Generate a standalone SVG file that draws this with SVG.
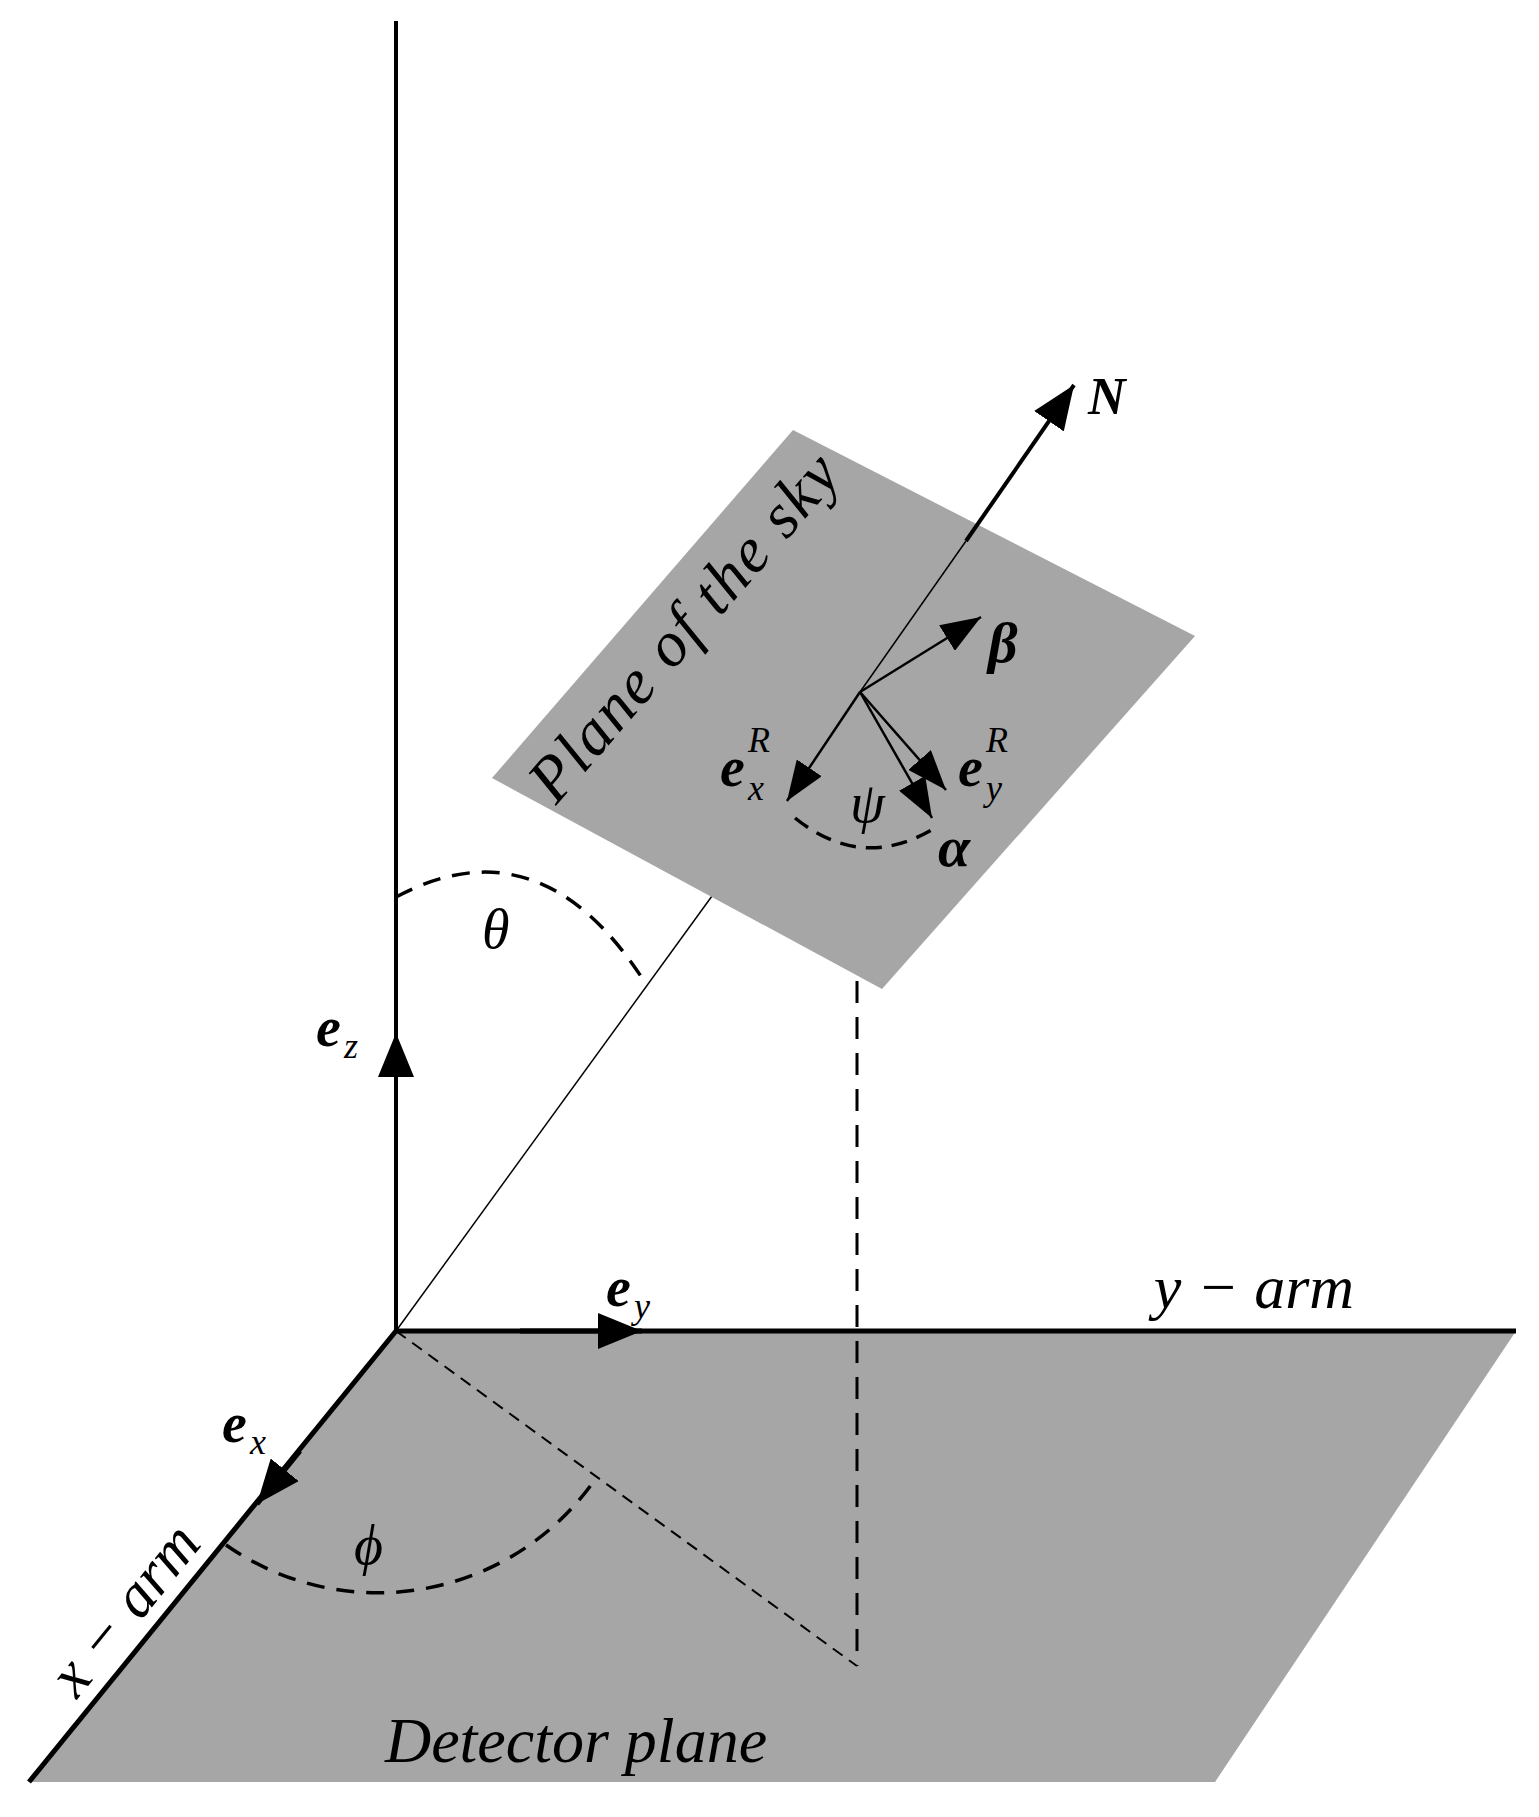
<svg xmlns="http://www.w3.org/2000/svg" width="1539" height="1817" viewBox="0 0 1539 1817">
<style>
.t{font-family:"Liberation Serif","DejaVu Serif",serif;font-style:italic;fill:#000}
.b{font-weight:bold}
.ln{stroke:#000;fill:none}
</style>
<defs>
<marker id="big" viewBox="0 0 10 10" refX="10" refY="5" markerWidth="44" markerHeight="36" markerUnits="userSpaceOnUse" orient="auto" preserveAspectRatio="none"><path d="M0,0L10,5L0,10z" fill="#000"/></marker>
<marker id="mid" viewBox="0 0 10 10" refX="10" refY="5" markerWidth="40" markerHeight="30" markerUnits="userSpaceOnUse" orient="auto" preserveAspectRatio="none"><path d="M0,0L10,5L0,10z" fill="#000"/></marker>
</defs>
<rect width="1539" height="1817" fill="#fff"/>
<g id="detector-plane"><polygon points="396,1331 1516,1331 1215,1782 29,1782" fill="#a6a6a6"/>
<text class="t" x="576" y="1762" font-size="64" text-anchor="middle">Detector plane</text></g>
<g id="connectors-under">
<line class="ln" x1="396" y1="1331" x2="720" y2="885" stroke-width="1.5"/>
</g>
<g id="sky-plane"><polygon points="793,430 1195,636 882,989 492,778" fill="#a6a6a6"/>
<text class="t" font-size="64" letter-spacing="2" text-anchor="middle" transform="translate(700,640) rotate(-49)">Plane of the sky</text></g>
<g id="connectors">
<line class="ln" x1="396" y1="21" x2="396" y2="1331" stroke-width="4"/>
<line class="ln" x1="396" y1="1331" x2="1516" y2="1331" stroke-width="5"/>
<line class="ln" x1="396" y1="1331" x2="29" y2="1782" stroke-width="5"/>
<line class="ln" x1="396" y1="1200" x2="396" y2="1033" stroke-width="4" marker-end="url(#big)"/>
<line class="ln" x1="520" y1="1331" x2="642" y2="1331" stroke-width="5" marker-end="url(#big)"/>
<line class="ln" x1="300" y1="1451" x2="257" y2="1504" stroke-width="5" marker-end="url(#big)"/>
<line class="ln" x1="860" y1="692" x2="966" y2="541" stroke-width="1.5"/>
<line class="ln" x1="966" y1="541" x2="1074" y2="385" stroke-width="4" marker-end="url(#big)"/>
<line class="ln" x1="860" y1="692" x2="981" y2="617" stroke-width="2.5" marker-end="url(#mid)"/>
<line class="ln" x1="860" y1="692" x2="787" y2="801" stroke-width="2.5" marker-end="url(#mid)"/>
<line class="ln" x1="860" y1="692" x2="946" y2="790" stroke-width="2.5" marker-end="url(#mid)"/>
<line class="ln" x1="860" y1="692" x2="932" y2="818" stroke-width="2.5" marker-end="url(#mid)"/>
<line class="ln" x1="857" y1="981" x2="857" y2="1666" stroke-width="3" stroke-dasharray="22,14"/>
<line class="ln" x1="396" y1="1331" x2="857" y2="1666" stroke-width="2" stroke-dasharray="12,8"/>
<path class="ln" d="M396,897 Q540,820 644,981" stroke-width="3.5" stroke-dasharray="18,12"/>
<path class="ln" d="M226,1545 A265,265 0 0,0 594,1481" stroke-width="3.5" stroke-dasharray="18,12"/>
<path class="ln" d="M795,818 Q862,872 935,828" stroke-width="3.5" stroke-dasharray="16,10"/>
</g>
<g id="labels">
<text class="t b" x="1088" y="414" font-size="52">N</text>
<text class="t b" x="988" y="662" font-size="58">β</text>
<text class="t b" x="720" y="786" font-size="56">e</text><text class="t" x="748" y="800" font-size="36">x</text><text class="t" x="748" y="752" font-size="36">R</text>
<text class="t b" x="958" y="786" font-size="56">e</text><text class="t" x="986" y="800" font-size="36">y</text><text class="t" x="986" y="752" font-size="36">R</text>
<text class="t b" x="938" y="866" font-size="58">α</text>
<text class="t" x="850" y="822" font-size="56">ψ</text>
<text class="t" x="482" y="948" font-size="56">θ</text>
<text class="t" x="354" y="1564" font-size="56">ϕ</text>
<text class="t b" x="316" y="1046" font-size="56">e</text><text class="t" x="344" y="1058" font-size="36">z</text>
<text class="t b" x="606" y="1306" font-size="56">e</text><text class="t" x="634" y="1318" font-size="36">y</text>
<text class="t b" x="222" y="1442" font-size="56">e</text><text class="t" x="250" y="1454" font-size="36">x</text>
<text class="t" x="1254" y="1308" font-size="62" text-anchor="middle">y − arm</text>
<text class="t" font-size="62" text-anchor="middle" transform="translate(140,1622) rotate(-51)">x − arm</text>
</g>
</svg>
